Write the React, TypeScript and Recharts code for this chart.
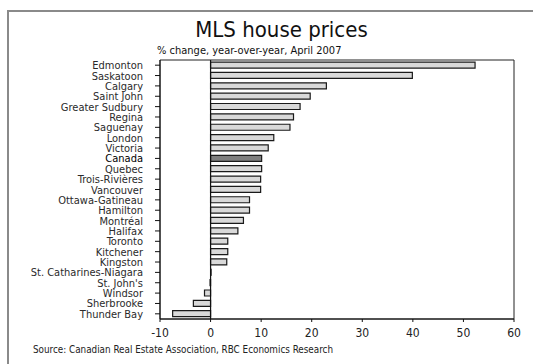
import React from 'react';
import { BarChart, Bar, XAxis, YAxis, Cell, ReferenceLine, ReferenceArea } from 'recharts';

const cities = [
  'Edmonton', 'Saskatoon', 'Calgary', 'Saint John', 'Greater Sudbury', 'Regina', 'Saguenay',
  'London', 'Victoria', 'Canada', 'Quebec', 'Trois-Rivières', 'Vancouver', 'Ottawa-Gatineau',
  'Hamilton', 'Montréal', 'Halifax', 'Toronto', 'Kitchener', 'Kingston',
  'St. Catharines-Niagara', "St. John's", 'Windsor', 'Sherbrooke', 'Thunder Bay',
];

const priceChange = [
  52.3, 39.9, 22.9, 19.7, 17.7, 16.4, 15.7,
  12.5, 11.4, 10.1, 10.1, 9.9, 9.9, 7.7,
  7.7, 6.5, 5.4, 3.4, 3.4, 3.2,
  0.1, -0.1, -1.2, -3.4, -7.5,
];

const xTicks = [-10, 0, 10, 20, 30, 40, 50, 60];

const FONT = "'DejaVu Sans Condensed', 'Liberation Sans', sans-serif";

const chartData = cities.map((city, i) => ({ city, change: priceChange[i] }));

// Canada label is drawn a touch darker than the cities
const CityTick = ({ x, y, payload }: any) => (
  <text
    x={x}
    y={y}
    dy={4}
    textAnchor="end"
    fontSize={11}
    fontFamily={FONT}
    fill={payload.value === 'Canada' ? '#000' : '#2a2a2a'}
  >
    {payload.value}
  </text>
);

export default function App() {
  return (
    <div style={{ position: 'absolute', left: 0, top: 0, width: 533, height: 364, background: '#fff', overflow: 'hidden', fontFamily: FONT }}>
      <div style={{ position: 'absolute', left: 7, top: 10, width: 540, height: 370, borderLeft: '2px solid #8a8a8a', borderTop: '2px solid #8a8a8a' }} />
      <div style={{ position: 'absolute', left: 0, width: 563, top: 17, textAlign: 'center', fontSize: 22, color: '#111' }}>
        MLS house prices
      </div>
      <div style={{ position: 'absolute', left: 157, top: 44, fontSize: 11, color: '#111' }}>
        % change, year-over-year, April 2007
      </div>
      <div style={{ position: 'absolute', left: 33, top: 344, fontSize: 9.8, color: '#222' }}>
        Source: Canadian Real Estate Association, RBC Economics Research
      </div>
      <BarChart
        width={533}
        height={364}
        data={chartData}
        layout="vertical"
        margin={{ top: 60, right: 19, bottom: 20, left: 0 }}
        barCategoryGap="20%"
        style={{ position: 'absolute', left: 0, top: 0 }}
      >
        <ReferenceArea x1={-10} x2={60} fill="none" stroke="#222" strokeWidth={1} ifOverflow="visible" />
        <XAxis
          type="number"
          domain={[-10, 60]}
          ticks={xTicks}
          height={25}
          stroke="#111"
          tickSize={3}
          tickMargin={6}
          tick={{ fontSize: 12, fill: '#222', fontFamily: FONT }}
        />
        <YAxis
          type="category"
          dataKey="city"
          width={160}
          stroke="#111"
          tickSize={5}
          tickMargin={12}
          interval={0}
          tick={<CityTick />}
        />
        <Bar dataKey="change" fill="#d9d9d9" stroke="#1a1a1a" strokeWidth={1.2} isAnimationActive={false}>
          {chartData.map((d) => (
            <Cell key={d.city} fill={d.city === 'Canada' ? '#7f7f7f' : '#d9d9d9'} />
          ))}
        </Bar>
        <ReferenceLine x={0} stroke="#111" strokeWidth={1.2} />
      </BarChart>
    </div>
  );
}
